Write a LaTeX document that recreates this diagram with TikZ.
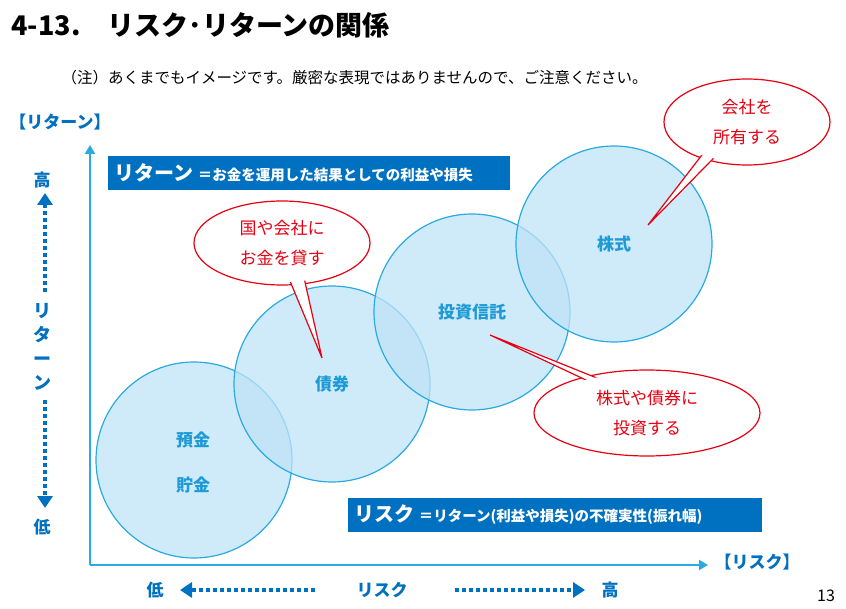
\documentclass[tikz,border=0pt]{standalone}
\usepackage{fontspec}
\setmainfont{Noto Sans CJK JP}
\usetikzlibrary{arrows.meta,shapes.geometric,calc}
\definecolor{axisblue}{HTML}{29ABE2}
\definecolor{ballfill}{HTML}{BFE3F7}
\definecolor{boxblue}{HTML}{0070C0}
\definecolor{labelblue}{HTML}{1E9AD6}
\definecolor{calred}{HTML}{E60012}
\tikzset{
  ball/.style={circle,minimum size=196pt,draw=axisblue,line width=1.2pt,fill=ballfill,fill opacity=0.75,draw opacity=1},
  balltext/.style={text=labelblue,font=\bfseries\fontsize{17}{20}\selectfont},
  infobox/.style={fill=boxblue,text=white,inner sep=0pt,font=\bfseries\fontsize{14.5}{17}\selectfont},
  scaletext/.style={text=boxblue,font=\bfseries\fontsize{17}{20}\selectfont},
  dotarrow/.style={draw=boxblue,line width=4.5pt,dash pattern=on 4pt off 3pt,-{Triangle[length=12pt,width=15pt]}},
  caltext/.style={text=calred,font=\fontsize{17}{30}\selectfont,align=center}
}
\newcommand{\callout}[6]{% name, center, rx, ry, tip, text
  \fill[white,draw=calred,line width=1.2pt] (#2) ellipse ({#3} and {#4});
  \filldraw[fill=white,draw=calred,line width=1.2pt] ($(#2)+(-12,-10)$) -- (#5) -- ($(#2)+(12,-10)$) -- cycle;
  \fill[white] (#2) ellipse ({#3-3} and {#4-3});
  \node[caltext] (#1) at (#2) {#6};
}
\begin{document}
\begin{tikzpicture}[x=1pt,y=-1pt]
  \useasboundingbox[fill=white] (0,0) rectangle (846,609);

  \node[anchor=west,font=\bfseries\fontsize{27}{30}\selectfont] (title) at (8,25) {4-13.　リスク･リターンの関係};
  \node[anchor=west,font=\fontsize{15.5}{18}\selectfont] (note) at (58,78) {（注）あくまでもイメージです。厳密な表現ではありませんので、ご注意ください。};

  % axes
  \coordinate (origin) at (90,565);
  \coordinate (ytop) at (90,145);
  \coordinate (xend) at (708,565);
  \draw[axisblue,line width=2.5pt,-{Triangle[length=9pt,width=10pt]}] (origin) -- (ytop);
  \draw[axisblue,line width=2.5pt,-{Triangle[length=9pt,width=10pt]}] (origin) -- (xend);
  \node[scaletext] (retlabel) at (60,122) {【リターン】};
  \node[scaletext] (risklabel) at (757,562) {【リスク】};

  % balls
  \node[ball] (deposit) at (194,460) {};
  \node[ball] (bond) at (332,384) {};
  \node[ball] (trust) at (472,312) {};
  \node[ball] (stock) at (614,244) {};
  \node[balltext] (depa) at (193,440) {預金};
  \node[balltext] (depb) at (193,485) {貯金};
  \node[balltext] (bondt) at (bond) {債券};
  \node[balltext] (trustt) at (trust) {投資信託};
  \node[balltext] (stockt) at (stock) {株式};

  % info boxes
  \node[infobox,minimum width=402pt,minimum height=34pt,text width=390pt,align=left] (retbox) at (309,173)
    {{\fontsize{20}{22}\selectfont リターン}\ ＝お金を運用した結果としての利益や損失};
  \node[infobox,minimum width=414pt,minimum height=34pt,text width=402pt,align=left] (riskbox) at (555,515)
    {{\fontsize{20}{22}\selectfont リスク}\ ＝リターン(利益や損失)の不確実性(振れ幅)};

  % left scale
  \node[scaletext] (yhigh) at (42,180) {高};
  \node[scaletext] (ylow) at (42,527) {低};
  \node[scaletext,align=center,font=\bfseries\fontsize{18}{24}\selectfont] (ymid) at (42,347) {リ\\タ\\ー\\ン};
  \draw[dotarrow] (45,292) -- (45,193);
  \draw[dotarrow] (45,400) -- (45,508);

  % bottom scale
  \node[scaletext] (xlow) at (155,590) {低};
  \node[scaletext] (xmid) at (382,590) {リスク};
  \node[scaletext] (xhigh) at (610,590) {高};
  \draw[dotarrow] (315,590) -- (180,590);
  \draw[dotarrow] (455,590) -- (585,590);

  \node[font=\fontsize{16}{18}\selectfont] (page) at (826,596) {13};

  % callouts
  \callout{lend}{282,243}{88}{42}{322,358}{国や会社に\\お金を貸す}
  \callout{own}{747,122}{83}{43}{648,225}{会社を\\所有する}
  \callout{invest}{647,413}{113}{43}{490,335}{株式や債券に\\投資する}
\end{tikzpicture}
\end{document}
